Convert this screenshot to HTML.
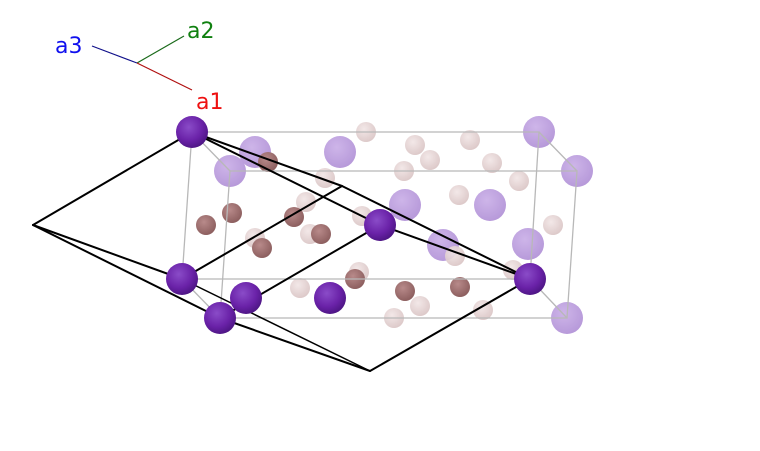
<!DOCTYPE html>
<html><head><meta charset="utf-8"><style>
html,body{margin:0;padding:0;background:#fff;width:760px;height:451px;overflow:hidden}
text{font-family:"DejaVu Sans","Liberation Sans",sans-serif;font-size:22px}
</style></head><body>
<svg width="760" height="451" viewBox="0 0 760 451" xmlns="http://www.w3.org/2000/svg">
<defs>
<radialGradient id="dp" cx="0.4" cy="0.35" r="0.7"><stop offset="0" stop-color="#8a4cc8"/><stop offset="0.6" stop-color="#6a22a8"/><stop offset="1" stop-color="#4a1480"/></radialGradient>
<radialGradient id="lp" cx="0.4" cy="0.35" r="0.7"><stop offset="0" stop-color="#c2a3e4"/><stop offset="1" stop-color="#a47fd0"/></radialGradient>
<radialGradient id="pk" cx="0.4" cy="0.35" r="0.7"><stop offset="0" stop-color="#f2e6e6"/><stop offset="1" stop-color="#d8c2c2"/></radialGradient>
<radialGradient id="br" cx="0.4" cy="0.35" r="0.7"><stop offset="0" stop-color="#b88a8a"/><stop offset="1" stop-color="#8a5c5c"/></radialGradient>
</defs>
<line x1="92" y1="46" x2="137" y2="63" stroke="#10108a" stroke-width="1.2"/>
<line x1="137" y1="63" x2="184" y2="36" stroke="#1a6a1a" stroke-width="1.2"/>
<line x1="137" y1="63" x2="192" y2="90" stroke="#b01010" stroke-width="1.2"/>
<text x="55" y="53" fill="#1010ee">a3</text>
<text x="187" y="38" fill="#108010">a2</text>
<text x="196" y="109" fill="#ee1010">a1</text>
<g opacity="0.8">
<circle cx="255" cy="152" r="16" fill="url(#lp)"/><circle cx="340" cy="152" r="16" fill="url(#lp)"/>
<circle cx="539" cy="132" r="16" fill="url(#lp)"/><circle cx="405" cy="205" r="16" fill="url(#lp)"/>
<circle cx="490" cy="205" r="16" fill="url(#lp)"/><circle cx="443" cy="245" r="16" fill="url(#lp)"/>
<circle cx="528" cy="244" r="16" fill="url(#lp)"/><circle cx="577" cy="171" r="16" fill="url(#lp)"/>
<circle cx="567" cy="318" r="16" fill="url(#lp)"/><circle cx="230" cy="171" r="16" fill="url(#lp)"/>
</g>
<g opacity="0.9">
<circle cx="366" cy="132" r="10" fill="url(#pk)"/><circle cx="415" cy="145" r="10" fill="url(#pk)"/>
<circle cx="430" cy="160" r="10" fill="url(#pk)"/><circle cx="470" cy="140" r="10" fill="url(#pk)"/>
<circle cx="492" cy="163" r="10" fill="url(#pk)"/><circle cx="519" cy="181" r="10" fill="url(#pk)"/>
<circle cx="404" cy="171" r="10" fill="url(#pk)"/><circle cx="325" cy="178" r="10" fill="url(#pk)"/>
<circle cx="306" cy="202" r="10" fill="url(#pk)"/><circle cx="459" cy="195" r="10" fill="url(#pk)"/>
<circle cx="553" cy="225" r="10" fill="url(#pk)"/><circle cx="362" cy="216" r="10" fill="url(#pk)"/>
<circle cx="255" cy="238" r="10" fill="url(#pk)"/><circle cx="310" cy="234" r="10" fill="url(#pk)"/>
<circle cx="359" cy="272" r="10" fill="url(#pk)"/><circle cx="455" cy="256" r="10" fill="url(#pk)"/>
<circle cx="513" cy="270" r="10" fill="url(#pk)"/><circle cx="300" cy="288" r="10" fill="url(#pk)"/>
<circle cx="420" cy="306" r="10" fill="url(#pk)"/><circle cx="394" cy="318" r="10" fill="url(#pk)"/>
<circle cx="483" cy="310" r="10" fill="url(#pk)"/>
</g>
<g>
<circle cx="268" cy="162" r="10" fill="url(#br)"/><circle cx="232" cy="213" r="10" fill="url(#br)"/>
<circle cx="206" cy="225" r="10" fill="url(#br)"/><circle cx="294" cy="217" r="10" fill="url(#br)"/>
<circle cx="321" cy="234" r="10" fill="url(#br)"/><circle cx="262" cy="248" r="10" fill="url(#br)"/>
<circle cx="355" cy="279" r="10" fill="url(#br)"/><circle cx="405" cy="291" r="10" fill="url(#br)"/>
<circle cx="460" cy="287" r="10" fill="url(#br)"/>
</g>
<g stroke="#b8b8b8" stroke-width="1.3" fill="none">
<polyline points="192,132 539,132 530,279 182,279 192,132"/>
<polyline points="230,171 577,171 567,318 220,318 230,171"/>
<line x1="192" y1="132" x2="230" y2="171"/><line x1="539" y1="132" x2="577" y2="171"/>
<line x1="530" y1="279" x2="567" y2="318"/><line x1="182" y1="279" x2="220" y2="318"/>
</g>
<g stroke="#000" stroke-width="2" fill="none" stroke-linecap="round">
<line x1="192" y1="132" x2="33" y2="225"/>
<line x1="192" y1="132" x2="342" y2="186"/>
<line x1="342" y1="186" x2="530" y2="279"/>
<line x1="192" y1="132" x2="380" y2="225"/>
<line x1="380" y1="225" x2="530" y2="279"/>
<line x1="33" y1="225" x2="182" y2="279"/>
<line x1="33" y1="225" x2="220" y2="318"/>
<line x1="182" y1="279" x2="342" y2="186"/>
<line x1="220" y1="318" x2="380" y2="225"/>
<line x1="530" y1="279" x2="370" y2="371"/>
<line x1="220" y1="318" x2="370" y2="371"/>
<line x1="182" y1="279" x2="370" y2="371" stroke-width="1.5"/>
</g>
<circle cx="192" cy="132" r="16" fill="url(#dp)"/><circle cx="380" cy="225" r="16" fill="url(#dp)"/>
<circle cx="530" cy="279" r="16" fill="url(#dp)"/><circle cx="182" cy="279" r="16" fill="url(#dp)"/>
<circle cx="246" cy="298" r="16" fill="url(#dp)"/><circle cx="330" cy="298" r="16" fill="url(#dp)"/>
<circle cx="220" cy="318" r="16" fill="url(#dp)"/>
</svg>
</body></html>
